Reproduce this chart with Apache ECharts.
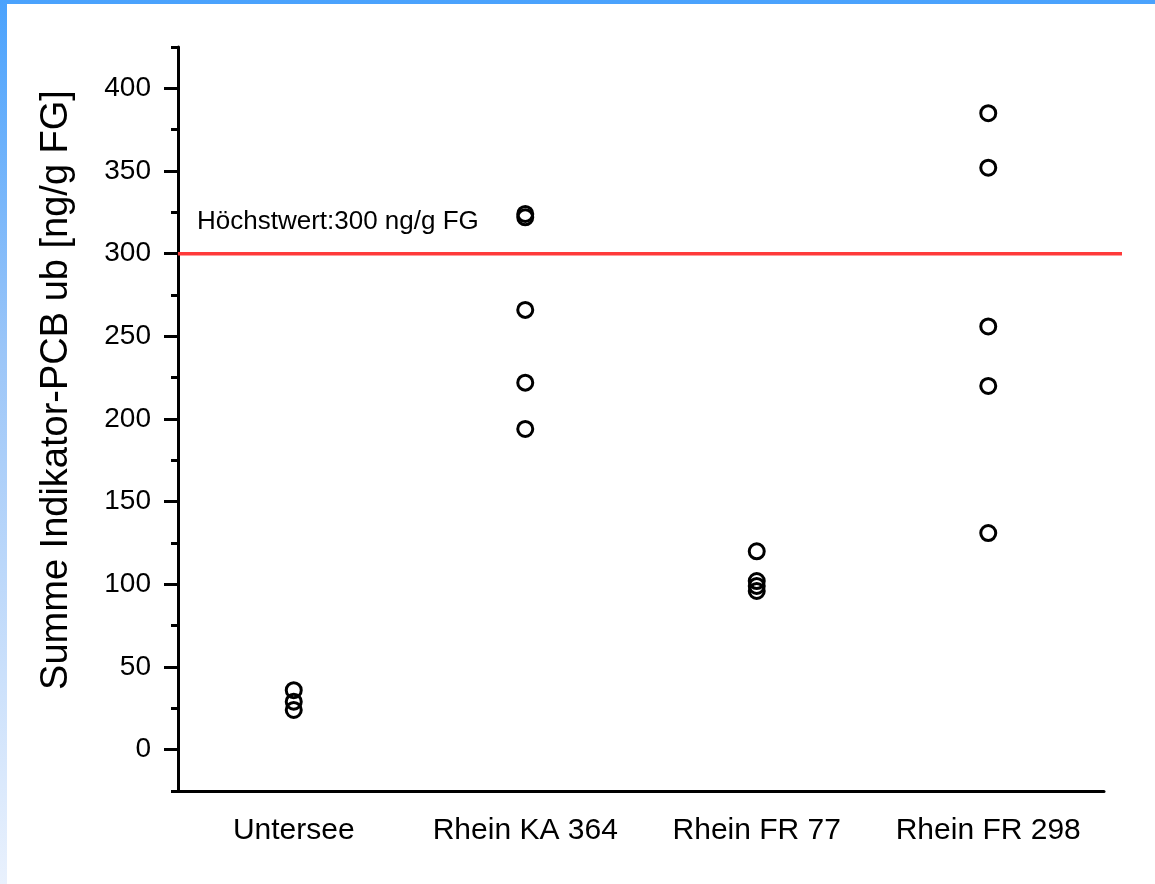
<!DOCTYPE html>
<html>
<head>
<meta charset="utf-8">
<script src="https://cdn.jsdelivr.net/npm/echarts@6/dist/echarts.min.js"></script>
<style>
  html, body { margin: 0; padding: 0; width: 1155px; height: 884px; overflow: hidden; }
  body { background: linear-gradient(to bottom, #4aa2fd 0%, #9cc6f8 40%, #e9f1fd 100%); position: relative; }
  #chart { position: absolute; left: 7px; top: 4px; width: 1148px; height: 880px; background: #fff; }
</style>
</head>
<body>
<div id="chart"></div>
<script>
// Kategorien (Probenahmestellen)
const categories = ['Untersee', 'Rhein KA 364', 'Rhein FR 77', 'Rhein FR 298'];
// Messwerte Summe Indikator-PCB ub [ng/g FG]
const untersee = [36, 29, 24];
const rheinKA364 = [324, 322, 266, 222, 194];
const rheinFR77 = [120, 102, 99, 96];
const rheinFR298 = [385, 352, 256, 220, 131];
const groups = [untersee, rheinKA364, rheinFR77, rheinFR298];
// Höchstwert
const limitValue = 300;
const limitText = 'Höchstwert:300 ng/g FG';
// Achsen
const yMajor = [0, 50, 100, 150, 200, 250, 300, 350, 400];
const yMinor = [-25, 25, 75, 125, 175, 225, 275, 325, 375, 425];

const font = "'Liberation Sans', Arial, sans-serif";

let points = [];
for (let i = 0; i < groups.length; i++) {
    for (let j = 0; j < groups[i].length; j++) {
        points.push([i + 1, groups[i][j]]);
    }
}

let chart = echarts.init(document.getElementById('chart'));

let option = {
    animation: false,
    grid: [{
        left: 171,
        top: 43,
        width: 926,
        height: 744
    }, {
        // etwas breiter: die rote Linie ragt rechts über die x-Achse hinaus
        left: 171,
        top: 43,
        width: 944,
        height: 744
    }],
    xAxis: [{
        type: 'value',
        gridIndex: 0,
        min: 0.5,
        max: 4.5,
        splitLine: { show: false },
        axisLine: { onZero: false, lineStyle: { color: '#000', width: 3 } },
        axisTick: { show: false },
        axisLabel: {
            customValues: [1, 2, 3, 4],
            formatter: function (v) { return categories[Math.round(v) - 1] || ''; },
            color: '#000',
            fontSize: 30,
            fontFamily: font,
            margin: 25
        }
    }, {
        type: 'value',
        gridIndex: 1,
        min: 0.5,
        max: 4.58,
        show: false
    }],
    yAxis: [{
        type: 'value',
        gridIndex: 0,
        min: -25,
        max: 425,
        name: 'Summe Indikator-PCB ub [ng/g FG]',
        nameLocation: 'middle',
        nameRotate: 90,
        nameGap: 102,
        nameTextStyle: {
            color: '#000',
            fontSize: 38,
            fontFamily: font,
            padding: [0, 0, 0, 58]
        },
        splitLine: { show: false },
        axisLine: { show: true, onZero: false, lineStyle: { color: '#000', width: 3 } },
        axisTick: {
            show: true,
            customValues: yMajor,
            length: 14,
            lineStyle: { color: '#000', width: 3 }
        },
        axisLabel: {
            customValues: yMajor,
            color: '#000',
            fontSize: 28,
            fontFamily: font,
            margin: 27
        }
    }, {
        type: 'value',
        gridIndex: 0,
        min: -25,
        max: 425,
        position: 'left',
        splitLine: { show: false },
        axisLine: { show: false },
        axisTick: {
            show: true,
            customValues: yMinor,
            length: 7,
            lineStyle: { color: '#000', width: 3 }
        },
        axisLabel: { show: false }
    }, {
        type: 'value',
        gridIndex: 1,
        min: -25,
        max: 425,
        show: false
    }],
    series: [{
        type: 'line',
        xAxisIndex: 1,
        yAxisIndex: 2,
        symbol: 'circle',
        symbolSize: 0,
        lineStyle: { color: '#ff3a3a', width: 3.5 },
        itemStyle: { color: '#ff3a3a' },
        data: [{
            value: [0.5, limitValue],
            label: {
                show: true,
                position: 'right',
                offset: [14, -32],
                formatter: limitText,
                color: '#000',
                fontSize: 26,
                fontFamily: font
            }
        }, [4.58, limitValue]],
        z: 1
    }, {
        type: 'scatter',
        xAxisIndex: 0,
        yAxisIndex: 0,
        symbol: 'circle',
        symbolSize: 15,
        itemStyle: {
            color: 'rgba(255,255,255,0)',
            borderColor: '#000',
            borderWidth: 3,
            opacity: 1
        },
        data: points,
        z: 3
    }]
};

chart.setOption(option);
</script>
</body>
</html>
